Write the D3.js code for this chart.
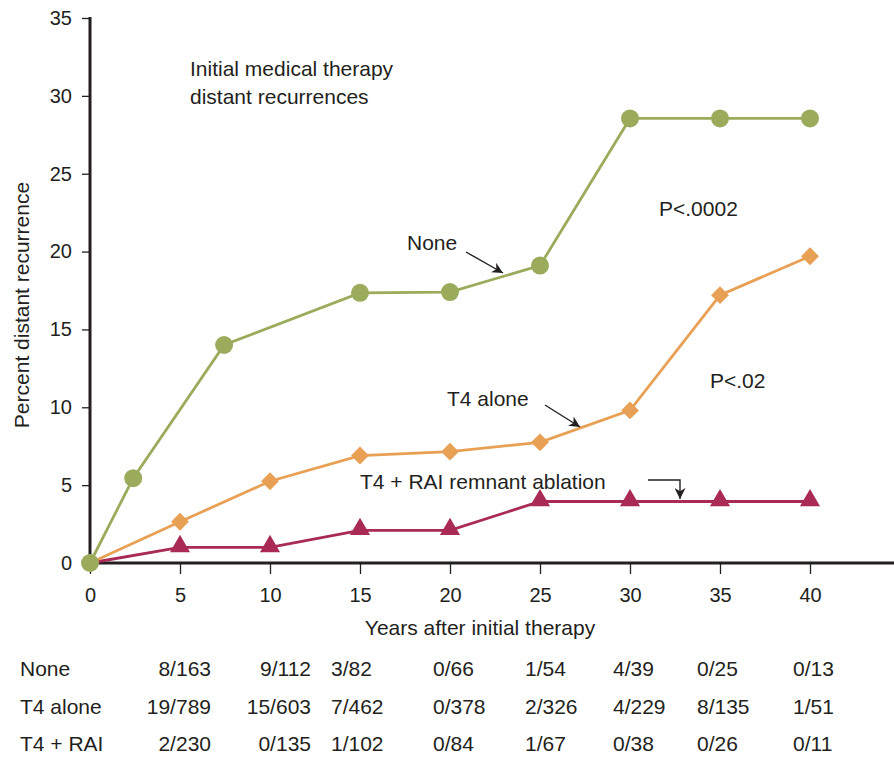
<!DOCTYPE html>
<html><head><meta charset="utf-8">
<script src="https://cdn.jsdelivr.net/npm/d3@7"></script>
<style>
body{margin:0;background:#fff;}
text{font-family:"Liberation Sans",Arial,sans-serif;fill:#231f20;}
</style></head>
<body><svg id="c" width="894" height="758"></svg>
<script>
// ---- data ----
const noneX = [0, 2.4, 7.45, 15, 20, 25, 30, 35, 40];
const noneY = [0, 5.45, 14.0, 17.35, 17.4, 19.1, 28.55, 28.55, 28.55];
const t4X = [0, 5, 10, 15, 20, 25, 30, 35, 40];
const t4Y = [0, 2.65, 5.25, 6.9, 7.15, 7.75, 9.8, 17.2, 19.7];
const raiX = [0, 5, 10, 15, 20, 25, 30, 35, 40];
const raiY = [0, 1.0, 1.0, 2.1, 2.1, 3.95, 3.95, 3.95, 3.95];
const xTicks = [0, 5, 10, 15, 20, 25, 30, 35, 40];
const yTicks = [0, 5, 10, 15, 20, 25, 30, 35];
const tableRows = ["None", "T4 alone", "T4 + RAI"];
const tableNone = ["8/163", "9/112", "3/82", "0/66", "1/54", "4/39", "0/25", "0/13"];
const tableT4 = ["19/789", "15/603", "7/462", "0/378", "2/326", "4/229", "8/135", "1/51"];
const tableRai = ["2/230", "0/135", "1/102", "0/84", "1/67", "0/38", "0/26", "0/11"];

// layout for table columns (pixel anchors)
const colAnchorX = [211, 311, 331, 433, 525, 613, 697, 793];
const colAnchor = ["end", "end", "start", "start", "start", "start", "start", "start"];

const svg = d3.select("#c");
const x = d3.scaleLinear().domain([0, 40]).range([90, 810]);
const y = d3.scaleLinear().domain([0, 35]).range([563, 18]);
const ink = "#231f20";
const FONT = '"Liberation Sans",Arial,sans-serif';

// axes
const xAxis = svg.append("g").attr("transform", `translate(0,${y(0)})`)
  .call(d3.axisBottom(x).tickValues(xTicks).tickSize(11).tickPadding(14).tickSizeOuter(0));
xAxis.select(".domain").remove();
xAxis.append("line").attr("x1", 88).attr("x2", 894).attr("stroke", ink).attr("stroke-width", 3);
xAxis.selectAll(".tick line").attr("stroke", ink).attr("stroke-width", 1.3);
xAxis.selectAll(".tick text").attr("font-size", 20).attr("fill", ink).attr("font-family", FONT);

const yAxis = svg.append("g").attr("transform", `translate(${x(0)},0)`)
  .call(d3.axisLeft(y).tickValues(yTicks).tickSize(8).tickPadding(10).tickSizeOuter(0));
yAxis.select(".domain").remove();
yAxis.append("line").attr("y1", 17).attr("y2", 565).attr("stroke", ink).attr("stroke-width", 3);
yAxis.selectAll(".tick line").attr("stroke", ink).attr("stroke-width", 1.3);
yAxis.selectAll(".tick text").attr("font-size", 20).attr("fill", ink).attr("font-family", FONT);

// titles
svg.append("text").attr("x", 480).attr("y", 635).attr("text-anchor", "middle").attr("font-size", 21).text("Years after initial therapy");
svg.append("text").attr("transform", "translate(29,305) rotate(-90)").attr("text-anchor", "middle").attr("font-size", 21).text("Percent distant recurrence");

// series
const line = d3.line().x(d => x(d[0])).y(d => y(d[1]));
function series(xs, ys, color) {
  const pts = xs.map((v, i) => [v, ys[i]]);
  svg.append("path").datum(pts).attr("d", line).attr("fill", "none").attr("stroke", color).attr("stroke-width", 2.8);
  return pts;
}
const raiPts = series(raiX, raiY, "#a82a55");
const t4Pts = series(t4X, t4Y, "#e8a055");
const nonePts = series(noneX, noneY, "#9aac5c");

svg.selectAll(".tri").data(raiPts.slice(1)).enter().append("path")
  .attr("d", d3.symbol().type(d3.symbolTriangle).size(175)())
  .attr("transform", d => `translate(${x(d[0])},${y(d[1]) - 1})`).attr("fill", "#a82a55");
svg.selectAll(".dia").data(t4Pts).enter().append("path")
  .attr("d", d3.symbol().type(d3.symbolSquare).size(160)())
  .attr("transform", d => `translate(${x(d[0])},${y(d[1])}) rotate(45)`).attr("fill", "#e8a055");
svg.selectAll(".cir").data(nonePts).enter().append("circle")
  .attr("cx", d => x(d[0])).attr("cy", d => y(d[1])).attr("r", 9).attr("fill", "#9aac5c");

// annotations
svg.append("text").attr("x", 190).attr("y", 76).attr("font-size", 21).text("Initial medical therapy");
svg.append("text").attr("x", 190).attr("y", 104).attr("font-size", 21).text("distant recurrences");
svg.append("text").attr("x", 407).attr("y", 250).attr("font-size", 21).text("None");
svg.append("text").attr("x", 447).attr("y", 406).attr("font-size", 21).text("T4 alone");
svg.append("text").attr("x", 360).attr("y", 489).attr("font-size", 21).text("T4 + RAI remnant ablation");
svg.append("text").attr("x", 659).attr("y", 216).attr("font-size", 21).text("P<.0002");
svg.append("text").attr("x", 710).attr("y", 388).attr("font-size", 21).text("P<.02");

const defs = svg.append("defs");
defs.append("marker").attr("id", "ah").attr("viewBox", "0 0 10 10").attr("refX", 10).attr("refY", 5)
  .attr("markerWidth", 11).attr("markerHeight", 11).attr("markerUnits", "userSpaceOnUse").attr("orient", "auto")
  .append("path").attr("d", "M0,0 L10,5 L0,10 L3,5 Z").attr("fill", ink);
svg.append("line").attr("x1", 466).attr("y1", 252).attr("x2", 503).attr("y2", 273).attr("stroke", ink).attr("stroke-width", 1.4).attr("marker-end", "url(#ah)");
svg.append("line").attr("x1", 545).attr("y1", 405).attr("x2", 580).attr("y2", 427).attr("stroke", ink).attr("stroke-width", 1.4).attr("marker-end", "url(#ah)");
svg.append("path").attr("d", "M648,480 L680,480 L680,499").attr("fill", "none").attr("stroke", ink).attr("stroke-width", 1.4).attr("marker-end", "url(#ah)");

// table
const rowsData = [tableNone, tableT4, tableRai];
const rowY = [676, 714, 751];
tableRows.forEach((lab, i) => {
  svg.append("text").attr("x", 20).attr("y", rowY[i]).attr("font-size", 21).text(lab);
  svg.selectAll(null).data(rowsData[i]).enter().append("text")
    .attr("x", (d, j) => colAnchorX[j]).attr("y", rowY[i]).attr("text-anchor", (d, j) => colAnchor[j])
    .attr("font-size", 21).text(d => d);
});
</script></body></html>
